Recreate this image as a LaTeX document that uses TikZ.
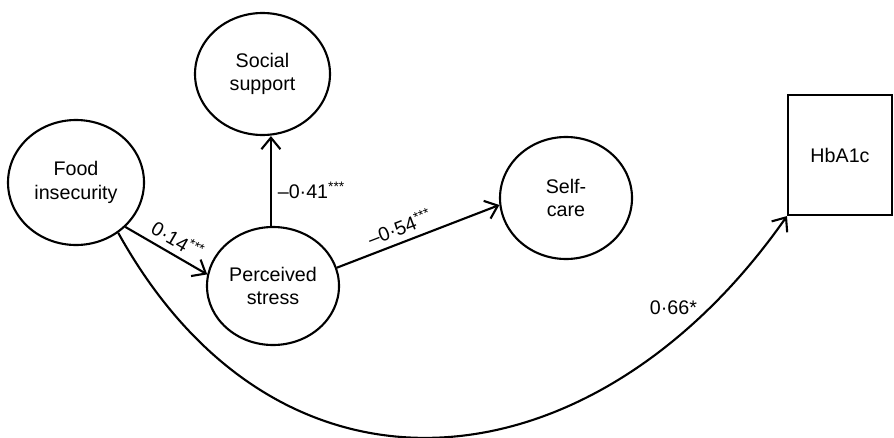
\documentclass[tikz,border=0pt]{standalone}
\usepackage{fontspec}
\setmainfont{Liberation Sans}
\usetikzlibrary{shapes.geometric,arrows.meta}

\begin{document}
\begin{tikzpicture}[
    font=\fontsize{11.2}{13.3}\selectfont,
    line width=1.2pt,
    latent/.style={draw, ellipse, align=center, inner sep=1pt},
    observed/.style={draw, rectangle, align=center, minimum width=2.08cm, minimum height=2.4cm},
    path/.style={-{Straight Barb[length=2.3mm, width=3.8mm]}},
    ]
    \useasboundingbox (0, 0) rectangle (17.88, 8.74);

    \node[latent, minimum width=2.72cm, minimum height=2.5cm] (food) at (1.52, 5.09) {Food\\insecurity};
    \node[latent, minimum width=2.7cm, minimum height=2.44cm] (social) at (5.25, 7.26) {Social\\support};
    \node[latent, minimum width=2.64cm, minimum height=2.36cm] (stress) at (5.46, 3.02) {Perceived\\stress};
    \node[latent, minimum width=2.64cm, minimum height=2.44cm] (selfcare) at (11.32, 4.78) {Self-\\care};
    \node[observed] (hba) at (16.8, 5.64) {HbA1c};

    % paths with estimates
    \draw[path] (food.-42) -- node[pos=0.55, sloped, above] {0·14\textsuperscript{***}} (stress.170);
    \draw[path] (stress.92) -- node[pos=0.4, right] {–0·41\textsuperscript{***}} (stress.92 |- social.south);
    \draw[path] (stress.16) -- node[pos=0.42, sloped, above] {–0·54\textsuperscript{***}} (selfcare.186);
    \draw[path] (food.-50) .. controls +(-61:6.7) and +(235:6.7) .. node[pos=0.86, above left, inner sep=1pt] {0·66*} (hba.south west);

\end{tikzpicture}
\end{document}
